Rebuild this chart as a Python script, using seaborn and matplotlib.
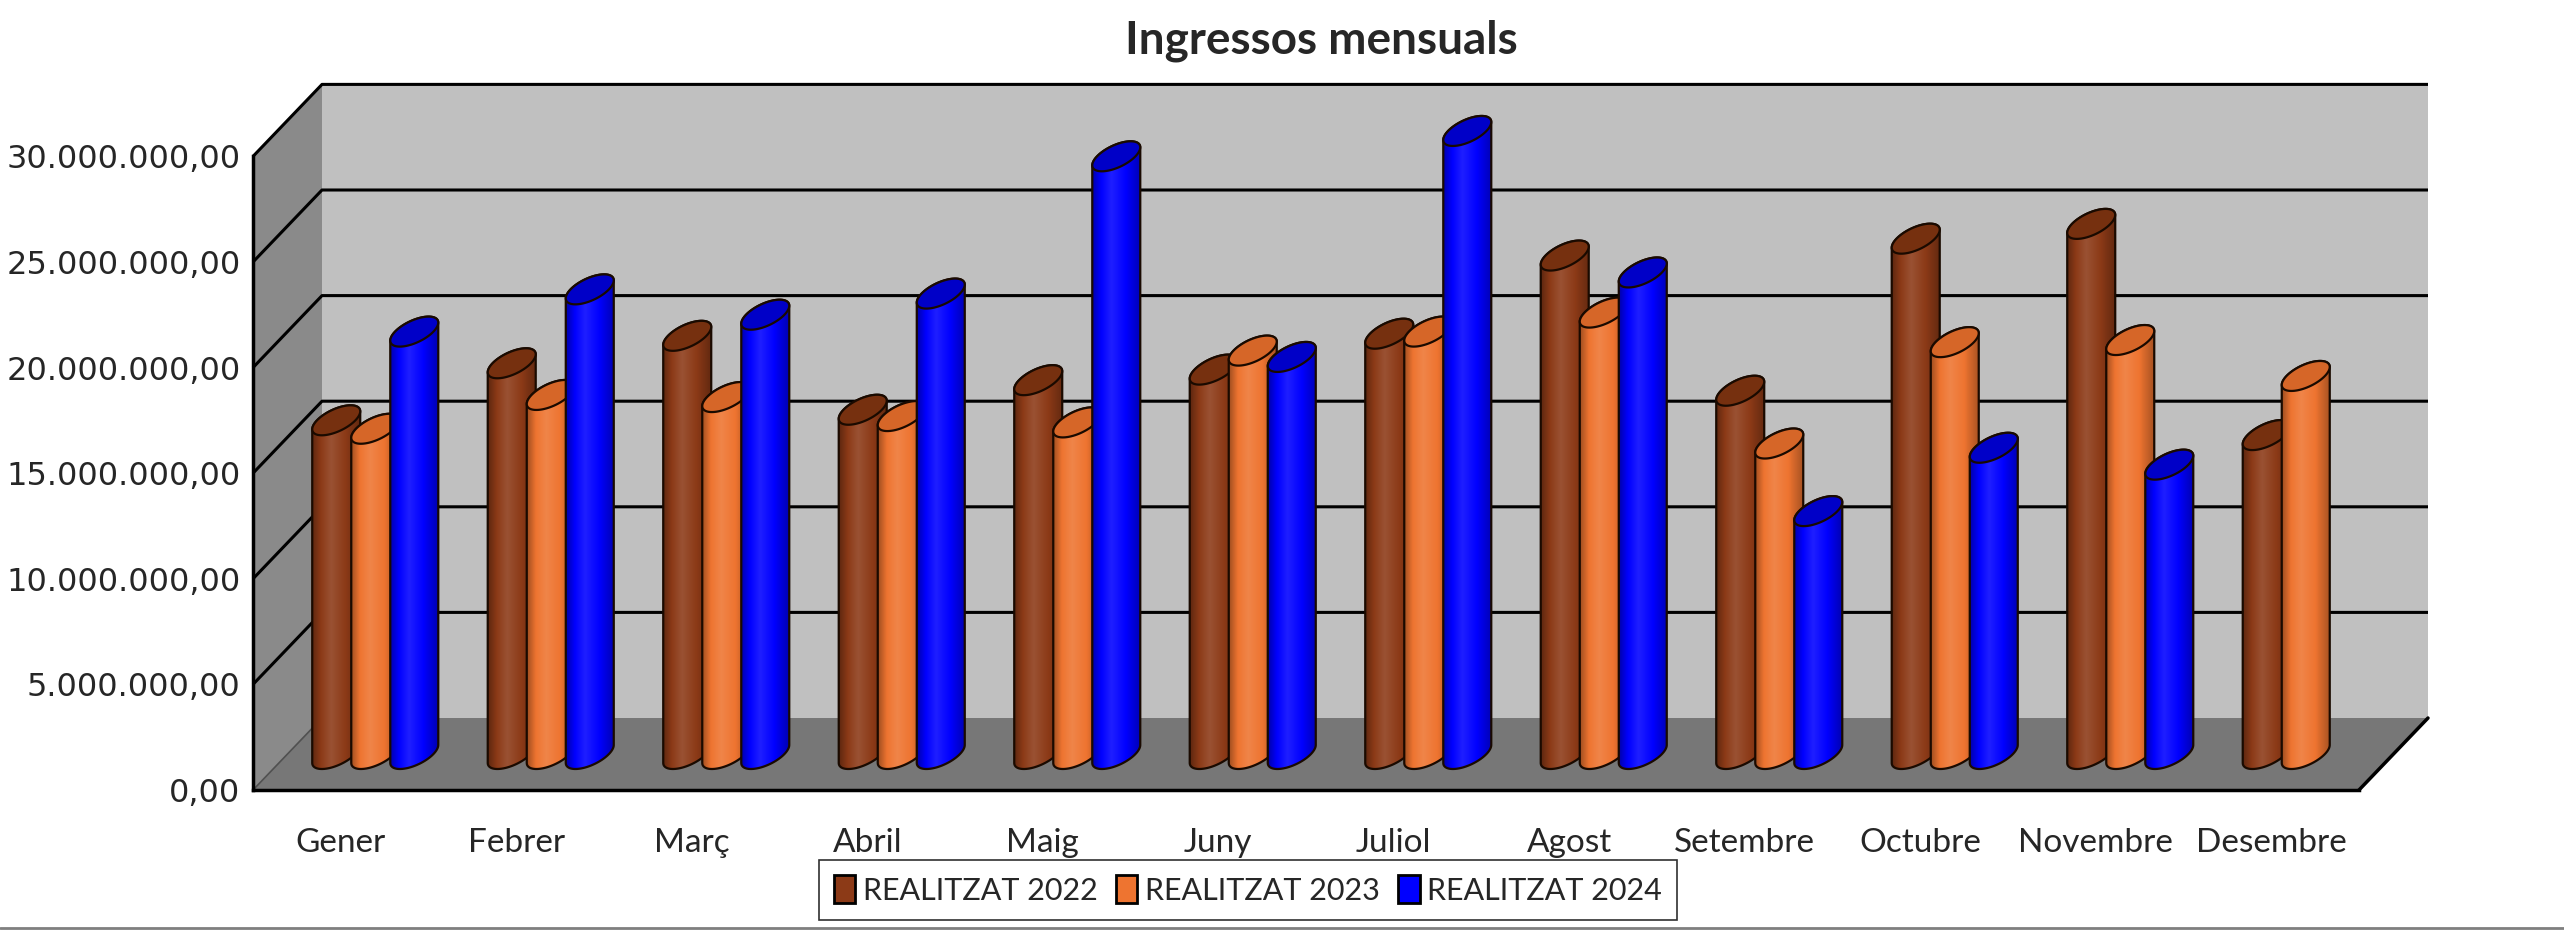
import numpy as np
import pandas as pd
import matplotlib
matplotlib.use("Agg")
import matplotlib.pyplot as plt
import seaborn as sns
from matplotlib.patches import Polygon, Patch
from matplotlib.lines import Line2D
from matplotlib.colors import LinearSegmentedColormap, to_rgb

# --- data -----------------------------------------------------------------
months = ["Gener", "Febrer", "Març", "Abril", "Maig", "Juny", "Juliol",
          "Agost", "Setembre", "Octubre", "Novembre", "Desembre"]
series_names = ["REALITZAT 2022", "REALITZAT 2023", "REALITZAT 2024"]

real_2022 = [15_800_000, 18_500_000, 19_800_000, 16_300_000, 17_700_000, 18_200_000,
             19_900_000, 23_600_000, 17_200_000, 24_400_000, 25_100_000, 15_100_000]
real_2023 = [15_400_000, 17_000_000, 16_900_000, 16_000_000, 15_700_000, 19_100_000,
             20_000_000, 20_900_000, 14_700_000, 19_500_000, 19_600_000, 17_900_000]
real_2024 = [20_000_000, 22_000_000, 20_800_000, 21_800_000, 28_300_000, 18_800_000,
             29_500_000, 22_800_000, 11_500_000, 14_500_000, 13_700_000, np.nan]

y_ticks = [0, 5_000_000, 10_000_000, 15_000_000, 20_000_000, 25_000_000, 30_000_000]
y_tick_labels = ["0,00", "5.000.000,00", "10.000.000,00", "15.000.000,00",
                 "20.000.000,00", "25.000.000,00", "30.000.000,00"]

colors = {"REALITZAT 2022": "#8C3A17", "REALITZAT 2023": "#EE7430", "REALITZAT 2024": "#0000FF"}
cap_colors = {"REALITZAT 2022": "#76300F", "REALITZAT 2023": "#D66628", "REALITZAT 2024": "#0000C8"}

df = pd.DataFrame({
    "mes": months * 3,
    "serie": np.repeat(series_names, len(months)),
    "valor": real_2022 + real_2023 + real_2024,
})

# --- figure / 3d frame ----------------------------------------------------
sns.set_style("white")
plt.rcParams["font.family"] = ["Lato", "DejaVu Sans"]

W, H = 2564, 930
fig = plt.figure(figsize=(W / 100, H / 100), dpi=100)

x0, x1 = 253, 2359          # front plane, pixels
y_base, y_top = 790, 156.4
DX, DY = 69, 72             # depth offset of the back wall, pixels
ymax = 30_000_000

ax = fig.add_axes([x0 / W, 1 - y_base / H, (x1 - x0) / W, (y_base - y_top) / H])
ax.set_xlim(-0.5, 11.5)
ax.set_ylim(0, ymax)
ax.patch.set_visible(False)

px_x = (x1 - x0) / 12
px_y = (y_base - y_top) / ymax
ddx, ddy = DX / px_x, DY / px_y
xl, xr = -0.5, 11.5

side = Polygon([(xl, 0), (xl, ymax), (xl + ddx, ymax + ddy), (xl + ddx, ddy)],
               closed=True, fc="#8A8A8A", ec="none", clip_on=False, zorder=0)
back = Polygon([(xl + ddx, ddy), (xr + ddx, ddy), (xr + ddx, ymax + ddy), (xl + ddx, ymax + ddy)],
               closed=True, fc="#C0C0C0", ec="none", clip_on=False, zorder=0)
floor = Polygon([(xl, 0), (xr, 0), (xr + ddx, ddy), (xl + ddx, ddy)],
                closed=True, fc="#777777", ec="none", clip_on=False, zorder=0)
for p in (side, back, floor):
    ax.add_patch(p)

for v in y_ticks[1:]:
    ax.plot([xl, xl + ddx, xr + ddx], [v, v + ddy, v + ddy], color="black", lw=2.2,
            clip_on=False, zorder=1, solid_capstyle="butt")
ax.plot([xl, xl + ddx], [0, ddy], color="#505050", lw=1.2, clip_on=False, zorder=1)
ax.plot([xr, xr + ddx], [0, ddy], color="black", lw=2.5, clip_on=False, zorder=1)

for side_name in ["top", "right"]:
    ax.spines[side_name].set_visible(False)
for side_name in ["left", "bottom"]:
    ax.spines[side_name].set_linewidth(2.5)
    ax.spines[side_name].set_color("black")
    ax.spines[side_name].set_zorder(5)

ax.set_yticks(y_ticks, y_tick_labels)
ax.tick_params(axis="y", length=8, width=1.5, pad=1, labelsize=23, color="black")
for lbl in ax.get_yticklabels():
    lbl.set_fontfamily("DejaVu Sans")

ax.set_xticks(range(len(months)), months)
ax.set_xticks(np.arange(-0.5, len(months), 1), minor=True)
ax.tick_params(axis="x", which="major", length=0, pad=27, labelsize=24)
ax.tick_params(axis="x", which="minor", length=8, width=1.5, color="black")

# --- cylinders (mid depth plane) ------------------------------------------
ylo = 3_000_000   # room below zero for the rounded cylinder bottoms
mid_base = y_base - DY / 2
ax_b = fig.add_axes([(x0 + DX / 2) / W, 1 - (mid_base + ylo * px_y) / H,
                     (x1 - x0) / W, (mid_base + ylo * px_y - (y_top - DY / 2)) / H])
sns.barplot(data=df, x="mes", y="valor", hue="serie", hue_order=series_names,
            palette=colors, width=0.667, errorbar=None, legend=False, ax=ax_b)
ax_b.axis("off")

hw = 24 / px_x
sv = 9 / px_y
hv = 12 / px_y
t_low = np.linspace(np.pi, 2 * np.pi, 40)
t_up = np.linspace(0, np.pi, 40)
t_all = np.linspace(0, 2 * np.pi, 80)


def ellipse(cx, cy, t):
    return np.column_stack([cx + hw * np.cos(t), cy + sv * np.cos(t) + hv * np.sin(t)])


for k, (name, cont) in enumerate(zip(series_names, ax_b.containers)):
    base = np.array(to_rgb(colors[name]))
    dark = base * 0.68
    light = base + (1 - base) * 0.12
    cmap = LinearSegmentedColormap.from_list(
        name, [(0, dark), (0.18, base), (0.4, light), (0.7, base), (1, dark * 1.05)])
    z = 2 + k
    for p in cont.patches:
        top = p.get_height()
        if not np.isfinite(top) or top == 0:
            p.set_visible(False)
            continue
        cx = p.get_x() + p.get_width() / 2
        p.set_visible(False)
        body_pts = np.vstack([
            [[cx - hw, top - sv]],
            [[cx - hw, -sv]],
            ellipse(cx, 0, t_low),
            [[cx + hw, top + sv]],
            ellipse(cx, top, t_up),
        ])
        body = Polygon(body_pts, closed=True, fc="none", ec="#1a0a00", lw=1.6,
                       transform=ax_b.transData, clip_on=False, zorder=z + 0.2)
        ax_b.add_patch(body)
        grad = np.linspace(0, 1, 64).reshape(1, -1)
        im = ax_b.imshow(grad, cmap=cmap, aspect="auto", interpolation="bilinear",
                         extent=[cx - hw, cx + hw, -sv - hv, top + sv + hv], zorder=z)
        im.set_clip_path(body)
        cap = Polygon(ellipse(cx, top, t_all), closed=True, fc=cap_colors[name],
                      ec="#1a0a00", lw=1.6, clip_on=False, zorder=z + 0.3)
        ax_b.add_patch(cap)

ax_b.set_xlim(-0.5, 11.5)
ax_b.set_ylim(-ylo, ymax)

# --- title, legend, frame line --------------------------------------------
fig.text(1321 / W, 1 - 41 / H, "Ingressos mensuals", ha="center", va="center",
         fontsize=33, fontweight="bold")

handles = [Patch(facecolor=colors[n], edgecolor="black", linewidth=2) for n in series_names]
leg = fig.legend(handles, series_names, loc="center", bbox_to_anchor=(1248 / W, 1 - 890 / H),
                 ncol=3, frameon=True, fancybox=False, edgecolor="#303030", framealpha=1,
                 fontsize=22, handlelength=0.7, handleheight=1.0, handletextpad=0.25,
                 columnspacing=0.6, borderpad=0.5)
leg.get_frame().set_linewidth(1.2)

fig.add_artist(Line2D([0, 1], [1 - 928 / H, 1 - 928 / H], transform=fig.transFigure,
                      color="#7f7f7f", lw=2))

fig.savefig("out.png", dpi=100)
plt.close(fig)
